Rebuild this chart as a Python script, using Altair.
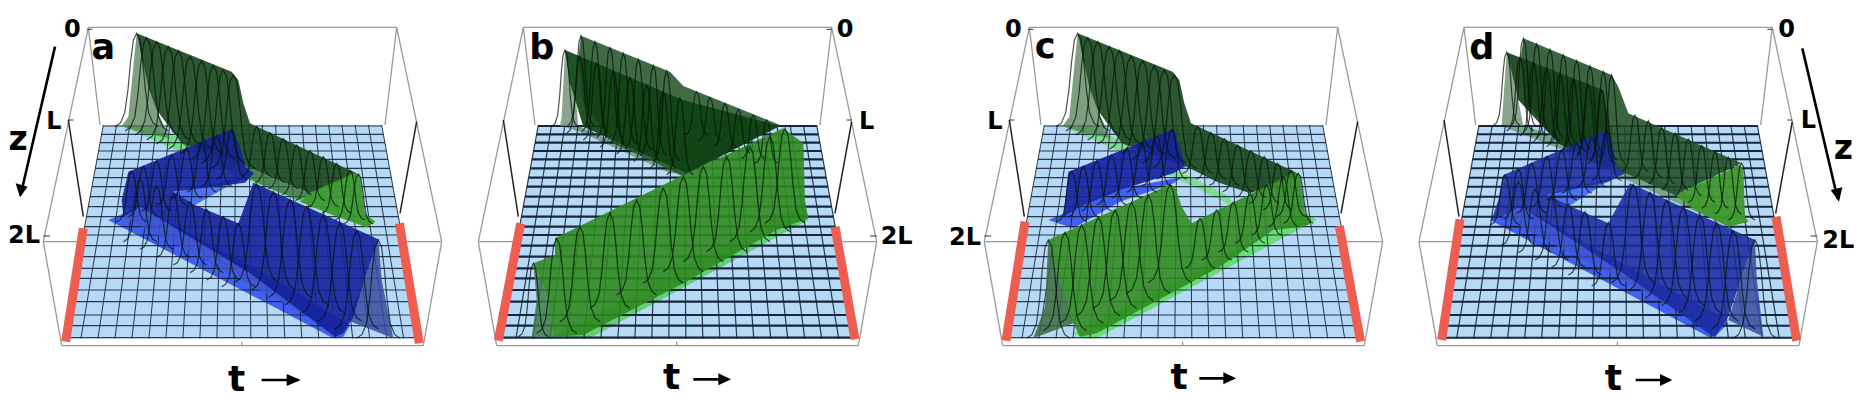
import altair as alt
import pandas as pd

W, H = 1849, 390
LIGHT_FLOOR = "#b5d9f7"
RED = "#ee5e50"
GREY = "#9a9a9a"
DARK = "#0f1c30"

# ---- panel placement (px) -------------------------------------------------
origins = [0, 470, 940, 1395]          # left edge of each panel's sketch frame
box_shift = [0, -105, 3, -58]          # frame offset inside each panel

# ---- frame corners --------------------------------------------------------
box_lines = [
    [(265, 82), (1190, 82)], [(130, 725), (265, 82)], [(1325, 725), (1190, 82)],
    [(130, 725), (1325, 725)], [(130, 725), (185, 1037)], [(1325, 725), (1270, 1037)],
    [(185, 1037), (1270, 1037)], [(265, 82), (300, 375)], [(1190, 82), (1155, 375)],
    [(725, 1025), (725, 1037)],
]
black_lines = [[(205, 360), (250, 650)], [(1250, 365), (1200, 640)]]
red_bars = {
    "a": [[(250, 685), (197, 1025)], [(1198, 670), (1258, 1030)]],
    "b": [[(152, 670), (85, 1022)], [(1095, 680), (1155, 1018)]],
    "c": [[(255, 665), (198, 1022)], [(1198, 678), (1262, 1025)]],
    "d": [[(195, 658), (140, 1020)], [(1143, 650), (1205, 1022)]],
}
floor_corners = [(310, 375), (1145, 375), (1262, 1015), (192, 1015)]
row_frac_y = [378, 403, 428, 453, 478, 505, 533, 560, 590, 620, 650, 680, 705,
              737, 770, 805, 835, 870, 905, 945, 977, 1013]
n_cols = [i / 21 for i in range(22)]
grid_width = {"a": (1.1, 1.0), "b": (2.1, 1.2), "c": (1.1, 1.0), "d": (2.0, 1.2)}

# ---- cross-section shape of the pulse --------------------------------------
bell_dx = [-1, -.75, -.55, -.4, -.28, -.15, 0, .15, .28, .4, .55, .75, 1]
bell_h = [0, .04, .15, .4, .7, .93, 1, .93, .7, .4, .15, .04, 0]

green_top_a = [(410, 100), (440, 113), (470, 125), (505, 140), (535, 152), (570, 168),
               (605, 182), (640, 197), (670, 210), (700, 225)]
green_low_a = [(770, 380), (810, 398), (850, 416), (890, 435), (930, 452), (970, 470),
               (1010, 490), (1050, 510), (1075, 522)]
blue_top_a = [(695, 388), (650, 408), (605, 427), (560, 445), (515, 465), (470, 483),
              (430, 500), (395, 515)]
blue_mid_a = [(420, 535), (470, 558), (520, 582), (570, 605), (620, 628), (670, 650), (715, 670)]
blue_front_a = [(770, 552), (820, 575), (870, 598), (920, 620), (970, 645), (1020, 668),
                (1070, 692), (1135, 720)]

panels = {}
panels["a"] = dict(
    polys=[
        ("#73dd82", .95, [(365, 378), (450, 375), (1060, 640), (1130, 662), (1100, 682), (980, 640), (540, 455)]),
        ("#3a5af0", .95, [(325, 660), (420, 620), (1050, 975), (1030, 1010), (1000, 1015)]),
        ("#4a6cf5", .95, [(520, 578), (730, 530), (760, 520), (700, 550), (585, 615)]),
    ],
    walls=[
        ("#4e7a50", .72, [(365, 378), (385, 350), (410, 100), (450, 260), (470, 330), (510, 415), (430, 400)]),
        ("#3c6b48", .75, [(545, 430), (740, 500), (930, 580), (900, 600), (820, 570), (600, 470)]),
        ("#1c4a20", .93, [(410, 100), (695, 215), (715, 240), (730, 310), (750, 370), (1060, 515), (1078, 525),
                          (930, 580), (740, 500), (545, 430), (470, 330), (445, 260)]),
        ("#3d9a2c", .95, [(930, 578), (1060, 520), (1080, 525), (1095, 640), (1125, 665), (1100, 682), (1000, 645), (900, 605)]),
        ("#3f55d0", .8, [(420, 622), (760, 800), (1045, 970), (1020, 1000), (760, 860), (370, 650)]),
        ("#3a4a9e", .85, [(1135, 718), (1145, 840), (1180, 1015), (1040, 960), (1090, 850)]),
        ("#14209a", .9, [(385, 515), (695, 388), (720, 440), (735, 500), (762, 520), (735, 548), (520, 575), (585, 615),
                         (715, 670), (760, 548), (1135, 718), (1090, 850), (1060, 950), (1030, 1000), (1005, 1010),
                         (750, 820), (420, 620), (370, 650), (365, 600)]),
    ],
    curves=[(green_top_a, 280, 65), (green_low_a, 150, 45), (blue_top_a, 150, 45),
            (blue_mid_a, 190, 50), (blue_front_a, 295, 65)],
)

panels["b"] = dict(
    polys=[
        ("#6f9a80", .9, [(275, 378), (320, 375), (640, 520), (600, 520), (330, 395)]),
        ("#5fd070", .95, [(250, 1010), (1000, 610), (1015, 660), (360, 1015)]),
    ],
    walls=[
        ("#6d8f70", .8, [(275, 350), (285, 150), (320, 320), (325, 378), (270, 378)]),
        ("#24552a", .88, [(333, 107), (600, 215), (640, 258), (930, 375), (640, 530), (560, 490), (430, 430), (340, 310), (325, 170)]),
        ("#0e4212", .92, [(285, 150), (640, 300), (930, 378), (650, 520), (340, 380), (300, 250)]),
        ("#3f7a48", .85, [(190, 790), (225, 870), (250, 1010), (185, 1010), (200, 900)]),
        ("#2f8a1e", .9, [(255, 715), (640, 525), (940, 385), (1000, 430), (1005, 600), (1015, 655), (920, 690),
                         (640, 850), (340, 1005), (250, 1010), (225, 870), (190, 790), (255, 765)]),
    ],
    curves=[
        ([(333, 107), (375, 125), (420, 143), (460, 160), (505, 178), (550, 197), (590, 213)], 270, 40),
        ([(285, 150), (330, 170), (380, 190), (430, 212), (480, 232), (530, 255), (580, 275), (630, 295)], 230, 40),
        ([(680, 275), (720, 292), (765, 310), (805, 328), (850, 345), (890, 360)], 130, 35),
        ([(190, 790)], 220, 45),
        ([(260, 715), (330, 680), (420, 640), (500, 600), (580, 565), (640, 530), (700, 500),
          (770, 470), (840, 440), (900, 410), (945, 385)], 285, 60),
    ],
)

panels["c"] = dict(
    polys=[
        ("#7edc8d", .95, [(365, 378), (450, 375), (870, 590), (880, 620), (780, 570), (540, 455)]),
        ("#3a5af0", .95, [(325, 660), (420, 620), (520, 570), (730, 530), (700, 550), (540, 605), (400, 685)]),
        ("#63dc70", .95, [(400, 1000), (1100, 640), (1130, 660), (470, 1015), (430, 1015)]),
    ],
    walls=[
        ("#4e7a50", .72, [(368, 378), (388, 350), (413, 100), (453, 260), (473, 330), (513, 415), (433, 400)]),
        ("#1c4a20", .93, [(413, 100), (698, 215), (718, 240), (733, 310), (753, 370), (1063, 515), (1078, 525),
                          (930, 580), (830, 545), (740, 500), (545, 430), (473, 330), (448, 260)]),
        ("#16239f", .92, [(385, 515), (700, 388), (720, 440), (735, 500), (700, 520), (540, 570), (420, 620), (370, 650)]),
        ("#3d6a40", .85, [(325, 720), (345, 800), (400, 970), (280, 1015), (315, 920)]),
        ("#2f8a1e", .88, [(325, 720), (690, 553), (705, 560), (725, 620), (755, 670), (1065, 515), (1080, 525),
                          (1095, 640), (1115, 670), (1090, 680), (1000, 690), (840, 800), (470, 1000), (420, 1010),
                          (390, 950), (345, 800)]),
    ],
    curves=[
        ([(413, 100), (443, 113), (473, 125), (508, 140), (538, 152), (573, 168), (608, 182), (643, 197), (673, 210), (703, 225)], 280, 65),
        ([(773, 380), (813, 398), (853, 416), (893, 435), (933, 452), (973, 470), (1013, 490), (1053, 510)], 140, 45),
        (blue_top_a, 150, 45),
        ([(325, 720), (375, 697), (425, 675), (475, 652), (525, 630), (575, 607), (625, 585), (690, 553)], 295, 65),
        ([(780, 655), (830, 630), (880, 606), (930, 580), (980, 555), (1030, 530), (1075, 520)], 150, 45),
    ],
)

panels["d"] = dict(
    polys=[
        ("#6fa080", .9, [(320, 378), (390, 375), (1050, 650), (1060, 665), (1000, 680), (490, 445)]),
        ("#3a5af0", .95, [(285, 660), (380, 620), (1000, 970), (960, 1010), (940, 1010)]),
        ("#4a6cf5", .95, [(455, 585), (660, 530), (520, 620)]),
    ],
    walls=[
        ("#6d8f70", .8, [(320, 375), (335, 157), (370, 300), (385, 378)]),
        ("#204f26", .88, [(385, 115), (650, 225), (670, 260), (700, 340), (1040, 490), (840, 585), (670, 510), (490, 430), (390, 300), (378, 170)]),
        ("#143f18", .92, [(335, 157), (625, 270), (660, 480), (640, 510), (490, 430), (370, 300)]),
        ("#3f9a2c", .95, [(840, 585), (1035, 495), (1045, 510), (1050, 650), (1060, 665), (1000, 680), (900, 630)]),
        ("#3f55d0", .8, [(380, 625), (700, 800), (1000, 960), (960, 995), (700, 850), (320, 650)]),
        ("#3a4a9e", .85, [(1080, 720), (1085, 830), (1105, 1010), (1000, 960), (1040, 830)]),
        ("#1a2aa0", .88, [(325, 525), (635, 390), (650, 430), (665, 500), (690, 520), (640, 545), (455, 585), (530, 620),
                          (640, 670), (705, 550), (1080, 720), (1040, 830), (1000, 950), (960, 1010), (940, 1000),
                          (700, 830), (380, 620), (290, 660), (310, 600)]),
    ],
    curves=[
        ([(385, 115), (425, 132), (465, 148), (505, 165), (545, 182), (585, 198), (625, 215), (650, 225)], 265, 40),
        ([(335, 157), (375, 173), (415, 188), (455, 205), (495, 220), (535, 237), (580, 255), (620, 270)], 220, 40),
        ([(720, 345), (760, 362), (800, 382), (840, 400), (880, 417), (920, 437), (960, 455), (1000, 472), (1040, 490)], 170, 40),
        ([(635, 392), (590, 412), (545, 430), (500, 450), (455, 470), (410, 490), (370, 508), (330, 525)], 150, 45),
        ([(370, 545), (420, 568), (470, 590), (520, 612), (570, 635), (640, 668)], 190, 50),
        ([(715, 553), (765, 577), (815, 600), (865, 622), (915, 645), (965, 668), (1015, 692), (1080, 720)], 295, 65),
    ],
)

# ---- text: (panel, string, x, y, size) in panel sketch coordinates ---------
labels = [
    ("a", "0", 217, 90, 24), ("a", "L", 162, 367, 24), ("a", "2L", 72, 708, 24), ("a", "a", 310, 143, 35),
    ("a", "z", 54, 420, 33), ("a", "t", 710, 1140, 36),
    ("b", "0", 1125, 90, 24), ("b", "L", 1190, 367, 24), ("b", "2L", 1280, 712, 24), ("b", "b", 215, 143, 35),
    ("b", "t", 605, 1135, 36),
    ("c", "0", 220, 90, 24), ("c", "L", 165, 367, 24), ("c", "2L", 75, 715, 24), ("c", "c", 315, 140, 35),
    ("c", "t", 717, 1135, 36),
    ("d", "0", 1175, 90, 24), ("d", "L", 1240, 362, 24), ("d", "2L", 1330, 722, 24), ("d", "d", 260, 143, 35),
    ("d", "z", 1345, 447, 33), ("d", "t", 655, 1137, 36),
]
arrows = [
    ("a", (785, 1140), (895, 1140)), ("a", (165, 140), (62, 585)),
    ("b", (670, 1138), (775, 1138)),
    ("c", (778, 1135), (880, 1135)),
    ("d", (722, 1140), (825, 1140)), ("d", (1222, 145), (1328, 597)),
]
arrow_heads = [
    ("a", [(860, 1122), (902, 1140), (860, 1158)]), ("a", [(47, 550), (60, 592), (83, 560)]),
    ("b", [(745, 1120), (783, 1138), (745, 1156)]),
    ("c", [(850, 1117), (888, 1135), (850, 1153)]),
    ("d", [(795, 1122), (832, 1140), (795, 1158)]), ("d", [(1307, 570), (1332, 605), (1342, 562)]),
]
ticks_left = [[(262, 88), (277, 88)], [(205, 360), (220, 360)], [(130, 708), (150, 708)]]
ticks_right = [[(1190, 88), (1175, 88)], [(1250, 360), (1235, 360)], [(1325, 708), (1305, 708)]]

names = ["a", "b", "c", "d"]
org = dict(zip(names, origins))
shift = dict(zip(names, box_shift))


def px(panel, pt, boxed=False):
    dx = shift[panel] if boxed else 0
    return (org[panel] + (pt[0] + dx) / 3, pt[1] / 3)


X = alt.X("x:Q", scale=alt.Scale(domain=[8, 8 + W]), axis=None)
Y = alt.Y("y:Q", scale=alt.Scale(domain=[8 + H, 8]), axis=None)


def poly(pts, color, op):
    df = pd.DataFrame([{"x": p[0], "y": p[1], "i": i} for i, p in enumerate(pts)])
    return alt.Chart(df).mark_line(fill=color, fillOpacity=op, strokeOpacity=0, strokeWidth=0).encode(
        x=X, y=Y, order="i:Q")


def lines(rows):
    return alt.Chart(pd.DataFrame(rows)).mark_line().encode(
        x=X, y=Y, detail="id:N", order="i:Q",
        color=alt.Color("c:N", scale=None),
        strokeWidth=alt.StrokeWidth("w:Q", scale=None),
        opacity=alt.Opacity("o:Q", scale=None),
    )


rows_box, rows_grid, rows_curve, rows_red = [], [], [], []
nid = 0


def add(rows, pts, c, w, o):
    global nid
    nid += 1
    for i, p in enumerate(pts):
        rows.append({"x": p[0], "y": p[1], "i": i, "id": nid, "c": c, "w": w, "o": o})


layers_floor, layers_walls = [], []
for n in names:
    for seg in box_lines:
        add(rows_box, [px(n, p, True) for p in seg], GREY, 1.3, 1)
    for seg in black_lines:
        add(rows_box, [px(n, p, True) for p in seg], "#222222", 1.5, 1)
    for seg in (ticks_right if n in "bd" else ticks_left):
        add(rows_box, [px(n, p, True) for p in seg], "#333333", 1.0, 1)
    fc = [px(n, p, True) for p in floor_corners]
    layers_floor.append(poly(fc, LIGHT_FLOOR, 1))
    for color, op, pts in panels[n]["polys"]:
        layers_floor.append(poly([px(n, p) for p in pts], color, op))
    (tlx, ty), (trx, _), (brx, by), (blx, _) = fc
    rw, cw = grid_width[n]
    op_r = .95 if n in "bd" else .85
    for ry in row_frac_y:
        f = (ry - 375) / (1015 - 375)
        y = ry / 3
        add(rows_grid, [(tlx + (blx - tlx) * f, y), (trx + (brx - trx) * f, y)], DARK, rw, op_r)
    for c in n_cols:
        add(rows_grid, [(tlx + (trx - tlx) * c, ty), (blx + (brx - blx) * c, by)], DARK, cw, .85)
    for color, op, pts in panels[n]["walls"]:
        layers_walls.append(poly([px(n, p) for p in pts], color, op))
    for ridge, h, w in panels[n]["curves"]:
        for (rx, ry) in ridge:
            pts = [(rx + w * d, ry + h * (1 - v)) for d, v in zip(bell_dx, bell_h)]
            add(rows_curve, [px(n, p) for p in pts], "#06120a", 1.2, .72)
    for seg in red_bars[n]:
        add(rows_red, [px(n, p) for p in seg], RED, 9, 1)

arrow_rows, head_layers = [], []
for n, a, b in arrows:
    add(arrow_rows, [px(n, a), px(n, b)], "#000000", 2.6, 1)
for n, pts in arrow_heads:
    head_layers.append(poly([px(n, p) for p in pts], "#000000", 1))

label_df = pd.DataFrame([
    {"x": px(n, (x, y))[0], "y": px(n, (x, y))[1], "s": s, "size": sz}
    for n, s, x, y, sz in labels
])
text = alt.Chart(label_df).mark_text(
    font="DejaVu Sans", fontWeight="bold", align="center", baseline="middle", color="#000000"
).encode(x=X, y=Y, text="s:N", size=alt.Size("size:Q", scale=None))

chart = alt.layer(
    lines(rows_box), *layers_floor, lines(rows_grid), *layers_walls, lines(rows_curve), lines(rows_red),
    lines(arrow_rows), *head_layers, text,
).properties(
    width=W, height=H, padding=0, autosize=alt.AutoSizeParams(type="none"), background="#ffffff"
).configure_view(stroke=None)

chart.save("out.html", embed_options={"renderer": "svg", "actions": False})
